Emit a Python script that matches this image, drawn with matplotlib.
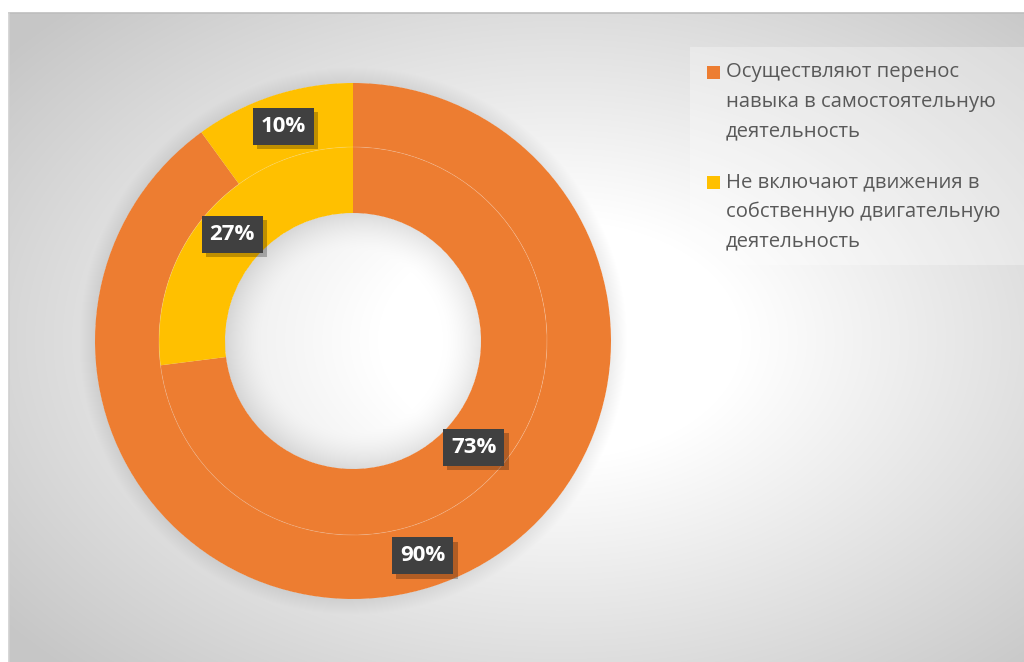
import numpy as np
import matplotlib
matplotlib.use("Agg")
import matplotlib.pyplot as plt
from matplotlib.patches import Rectangle, Circle
import matplotlib.patheffects as pe

# ---- data ----
categories = ["Осуществляют перенос\nнавыка в самостоятельную\nдеятельность",
              "Не включают движения в\nсобственную двигательную\nдеятельность"]
outer_values = [90, 10]
inner_values = [73, 27]
colors = ["#ED7D31", "#FFC000"]

W, H = 1024, 662
fig = plt.figure(figsize=(W / 100, H / 100), dpi=100)
ax = fig.add_axes([0, 0, 1, 1])
ax.set_xlim(0, W)
ax.set_ylim(0, H)
ax.set_aspect("equal")
ax.axis("off")

cx, cy = 353, H - 341
R_out, R_mid, R_in = 258, 194, 128

# ---- background (chart area gradient + soft shadows) ----
yy, xx = np.mgrid[0:H, 0:W] + 0.5
gx, gy = 560, 340
nd = np.sqrt(((xx - gx) / 520) ** 2 + ((yy - gy) / 340) ** 2)
v = 1 - 0.22 * np.clip((nd - 0.35) / 1.0, 0, 1)
rr = np.sqrt((xx - 353) ** 2 + (yy - 341) ** 2)
v -= 0.07 * np.clip(1 - (rr - R_out) / 16, 0, 1) * (rr > R_out)
v -= 0.10 * np.clip((rr - 90) / (R_in - 90), 0, 1) ** 1.6 * (rr < R_in)
v = np.clip(v, 0, 1)
inside = (xx >= 9) & (yy >= 13)
v = np.where(inside, v, 1.0)
img = np.dstack([v, v, v])
ax.imshow(img, extent=[0, W, 0, H], origin="upper", zorder=0, interpolation="bilinear")
ax.plot([9, W], [H - 13, H - 13], color="#bdbdbd", lw=1.2, zorder=1)
ax.plot([9, 9], [0, H - 13], color="#d0d0d0", lw=1.2, zorder=1)

# ---- donut ----
ax.pie(outer_values, colors=colors, radius=R_out, center=(cx, cy),
       startangle=90, counterclock=False,
       wedgeprops=dict(width=R_out - R_mid, edgecolor="none"), frame=True)
ax.pie(inner_values, colors=colors, radius=R_mid, center=(cx, cy),
       startangle=90, counterclock=False,
       wedgeprops=dict(width=R_mid - R_in, edgecolor="none"), frame=True)
ax.set_xlim(0, W)
ax.set_ylim(0, H)
ax.axis("off")
ax.add_patch(Circle((cx, cy), R_mid, fill=False, ec="white", lw=0.6, alpha=0.18, zorder=3))

# ---- data labels ----
def add_labels(values, r_mid):
    cum = 0
    for val in values:
        th = np.deg2rad(90 - 360 * (cum + val / 2) / sum(values))
        cum += val
        t = ax.text(cx + r_mid * np.cos(th), cy + r_mid * np.sin(th), f"{val}%",
                    ha="center", va="center", color="white", fontsize=16,
                    fontweight="bold", family=["Open Sans", "DejaVu Sans"], zorder=6,
                    bbox=dict(boxstyle="square,pad=0.36", fc="#404040", ec="none"))
        t.get_bbox_patch().set_path_effects(
            [pe.SimplePatchShadow(offset=(3, -3), shadow_rgbFace="black", alpha=0.25), pe.Normal()])

add_labels(outer_values, (R_out + R_mid) / 2)
add_labels(inner_values, (R_mid + R_in) / 2)

# ---- legend (manual) ----
ax.add_patch(Rectangle((690, H - 265), W - 690, 218, fc="white", ec="none", alpha=0.3, zorder=2))
entry_tops = [72, 182]
for cat, col, ly in zip(categories, colors, entry_tops):
    ax.add_patch(Rectangle((707, H - ly - 7), 13, 13, fc=col, ec="none", zorder=5))
    for i, line in enumerate(cat.split("\n")):
        ax.text(726, H - (ly + i * 29.5), line, ha="left", va="center", color="#595959",
                fontsize=14.6, family=["Open Sans", "DejaVu Sans"], zorder=5)

fig.savefig("out.png", dpi=100)
